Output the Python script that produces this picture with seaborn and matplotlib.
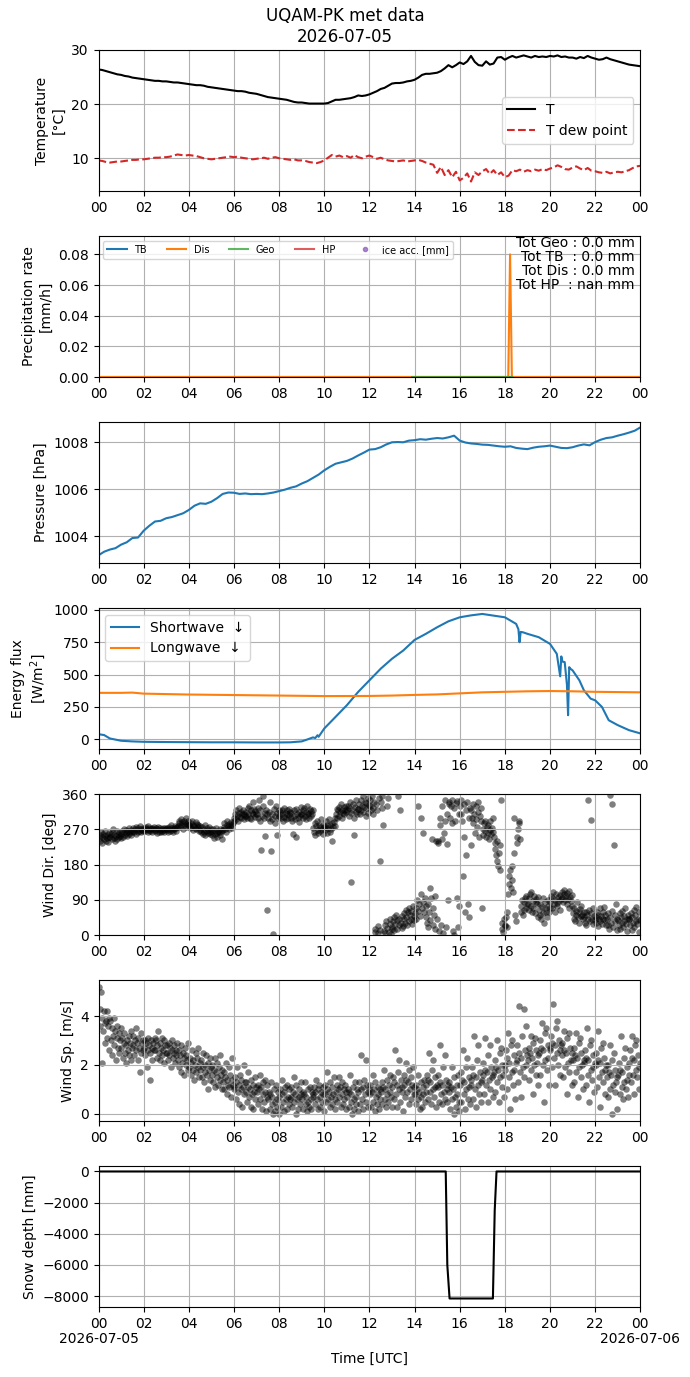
import numpy as np
import pandas as pd
import matplotlib
matplotlib.use("Agg")
import matplotlib.pyplot as plt
import matplotlib.transforms as mtransforms
import seaborn as sns

# --- temperature, every 10 min from 00 to 24 h ---
temp_c = [
    26.4, 26.3, 26.1, 25.9, 25.7, 25.5,
    25.4, 25.2, 25.1, 24.9, 24.8, 24.7,
    24.6, 24.5, 24.4, 24.3, 24.3, 24.2,
    24.2, 24.1, 24.0, 24.0, 23.9, 23.8,
    23.7, 23.6, 23.5, 23.5, 23.4, 23.2,
    23.1, 23.0, 22.9, 22.8, 22.7, 22.6,
    22.5, 22.4, 22.4, 22.3, 22.1, 22.0,
    21.9, 21.7, 21.5, 21.3, 21.2, 21.1,
    21.0, 20.9, 20.8, 20.6, 20.4, 20.3,
    20.3, 20.2, 20.1, 20.1, 20.1, 20.1,
    20.1, 20.2, 20.5, 20.8, 20.8, 20.9,
    21.0, 21.1, 21.3, 21.6, 21.5, 21.6,
    21.8, 22.1, 22.4, 22.8, 23.0, 23.4,
    23.8, 23.9, 23.9, 24.0, 24.2, 24.3,
    24.5, 24.9, 25.4, 25.6, 25.6, 25.7,
    25.8, 26.1, 26.6, 27.2, 26.8, 27.2,
    27.7, 27.4, 27.9, 28.9, 27.8, 27.2,
    27.1, 27.9, 27.3, 27.5, 28.6, 28.7,
    28.2, 28.6, 28.9, 28.6, 28.8, 29.0,
    28.8, 28.6, 28.9, 28.7, 28.8, 28.7,
    28.9, 28.8, 29.0, 28.7, 28.8, 28.6,
    28.6, 28.4, 28.7, 28.5, 28.9, 28.6,
    28.4, 28.2, 28.3, 28.6, 28.3, 28.1,
    27.9, 27.7, 27.5, 27.3, 27.2, 27.1,
    27.0,
]
dew_c = [
    9.6, 9.5, 9.3, 9.2, 9.3, 9.4,
    9.4, 9.5, 9.6, 9.7, 9.7, 9.8,
    9.8, 9.9, 10.0, 10.1, 10.1, 10.2,
    10.2, 10.3, 10.5, 10.7, 10.6, 10.5,
    10.6, 10.5, 10.4, 10.2, 10.0, 9.9,
    9.8, 9.9, 10.0, 10.1, 10.2, 10.3,
    10.2, 10.3, 10.1, 10.0, 9.9, 9.8,
    9.9, 10.0, 10.1, 9.9, 10.1, 10.2,
    10.0, 9.9, 9.8, 9.7, 9.8, 9.6,
    9.6, 9.5, 9.3, 9.2, 9.1, 9.3,
    9.6, 10.1, 10.6, 10.3, 10.5, 10.2,
    10.4, 10.1, 10.6, 10.2, 10.0, 10.3,
    10.5, 10.2, 9.9, 10.1, 9.8, 9.6,
    9.5, 9.4, 9.5, 9.6, 9.4, 9.5,
    9.6, 9.7, 9.5, 9.2, 9.0, 8.8,
    7.3, 8.4, 6.9, 7.8, 6.5, 7.5,
    5.9, 6.4, 7.2, 5.7, 7.4, 6.9,
    7.6, 8.0, 7.1, 7.8, 6.9, 7.4,
    6.5, 6.8, 7.8, 7.6, 7.9, 7.5,
    7.8, 7.6, 7.9, 7.7, 8.0, 7.8,
    8.1, 8.3, 8.7, 8.4, 8.0, 7.9,
    8.3, 8.5, 8.1, 7.8, 8.2, 7.7,
    7.6, 7.4, 7.3, 7.5, 7.2, 7.4,
    7.5, 7.4, 7.6, 7.8, 8.2, 8.5,
    8.6,
]

# --- precipitation rate [mm/h] ---
tb_hours = [0, 24]
tb_rate = [0.0, 0.0]
dis_hours = [0, 18.15, 18.23, 18.31, 24]
dis_rate = [0.0, 0.0, 0.08, 0.0, 0.0]
geo_hours = [13.9, 18.3]
geo_rate = [0.0, 0.0]
hp_hours = [0, 24]
hp_rate = [np.nan, np.nan]
totals_text = "Tot Geo : 0.0 mm\nTot TB  : 0.0 mm\nTot Dis : 0.0 mm\nTot HP  : nan mm"

# --- pressure [hPa], every 15 min ---
pressure_hpa = [
    1003.20, 1003.35, 1003.44, 1003.50, 1003.65, 1003.75, 1003.93, 1003.95,
    1004.24, 1004.45, 1004.63, 1004.66, 1004.77, 1004.82, 1004.90, 1004.98,
    1005.12, 1005.30, 1005.40, 1005.38, 1005.47, 1005.62, 1005.80, 1005.86,
    1005.85, 1005.80, 1005.82, 1005.79, 1005.80, 1005.79, 1005.82, 1005.86,
    1005.92, 1005.98, 1006.06, 1006.12, 1006.24, 1006.34, 1006.48, 1006.62,
    1006.80, 1006.95, 1007.08, 1007.14, 1007.20, 1007.30, 1007.43, 1007.55,
    1007.68, 1007.70, 1007.78, 1007.90, 1007.99, 1008.00, 1007.99, 1008.06,
    1008.08, 1008.12, 1008.10, 1008.14, 1008.17, 1008.15, 1008.20, 1008.27,
    1008.06, 1007.98, 1007.94, 1007.92, 1007.89, 1007.88, 1007.85, 1007.82,
    1007.80, 1007.82, 1007.75, 1007.72, 1007.70, 1007.76, 1007.80, 1007.82,
    1007.85, 1007.80, 1007.75, 1007.74, 1007.78, 1007.85, 1007.90, 1007.86,
    1008.00, 1008.10, 1008.17, 1008.20, 1008.27, 1008.33, 1008.40, 1008.48,
    1008.62,
]

# --- radiation [W/m2] ---
sw_hours = [0, 0.25, 0.5, 1, 1.5, 2, 3, 4, 5, 6, 7, 8, 8.5, 9, 9.25, 9.5, 9.6, 9.7,
            9.75, 10, 10.5, 11, 11.5, 12, 12.5, 13, 13.5, 14, 14.5, 15, 15.5, 16,
            16.5, 17, 17.5, 18, 18.5, 18.6, 18.65, 18.7, 18.8, 19, 19.5, 20, 20.3,
            20.45, 20.5, 20.55, 20.65, 20.75, 20.8, 20.85, 20.9, 21, 21.3, 21.5,
            21.8, 22, 22.3, 22.6, 23, 23.5, 24]
sw_flux = [38, 31, 5, -13, -18, -21, -23, -24, -25, -25, -26, -26, -25, -18, -3, 13,
           8, 30, 18, 82, 172, 262, 365, 455, 545, 622, 686, 768, 815, 866, 912, 943,
           958, 969, 956, 943, 892, 850, 750, 830, 827, 815, 789, 737, 660,
           486, 640, 600, 596, 420, 185, 557, 545, 532, 455, 378,
           313, 300, 249, 146, 108, 69, 44]
lw_hours = [0, 1, 1.5, 2, 4, 6, 8, 10, 12, 13, 14, 15, 16, 17, 18, 19, 20, 21, 22, 23, 24]
lw_flux = [358, 358, 360, 352, 345, 341, 337, 333, 334, 337, 342, 346, 354, 362, 366,
           370, 372, 370, 366, 364, 362]

# --- wind: 16 samples per 30-min block ---
wind_dir_blocks = [
    [248, 240, 255, 262, 236, 250, 258, 244, 252, 265, 240, 247, 256, 238, 250, 260],
    [250, 258, 244, 262, 270, 248, 255, 240, 252, 266, 245, 258, 250, 262, 254, 248],
    [258, 265, 250, 262, 270, 255, 268, 260, 252, 266, 272, 258, 262, 255, 268, 264],
    [265, 272, 262, 270, 258, 275, 268, 264, 272, 266, 278, 262, 270, 268, 274, 266],
    [268, 272, 265, 275, 270, 262, 278, 268, 272, 266, 270, 274, 264, 270, 276, 268],
    [266, 272, 260, 270, 276, 264, 268, 272, 262, 270, 266, 274, 268, 264, 272, 270],
    [268, 272, 264, 276, 270, 266, 280, 272, 268, 262, 274, 270, 278, 266, 272, 276],
    [278, 285, 290, 275, 296, 282, 288, 270, 292, 280, 286, 300, 276, 284, 290, 282],
    [280, 272, 286, 276, 290, 268, 282, 278, 274, 288, 270, 284, 276, 280, 266, 278],
    [268, 262, 275, 258, 270, 264, 280, 255, 266, 272, 260, 268, 276, 262, 258, 270],
    [262, 255, 270, 248, 265, 258, 272, 260, 250, 266, 262, 270, 256, 264, 245, 268],
    [268, 275, 285, 270, 262, 280, 290, 276, 270, 284, 278, 288, 272, 280, 286, 292],
    [300, 310, 295, 318, 305, 290, 312, 325, 302, 298, 315, 308, 320, 296, 310, 304],
    [305, 315, 298, 325, 310, 330, 300, 318, 295, 312, 340, 308, 322, 302, 316, 310],
    [310, 300, 325, 345, 290, 318, 216, 305, 330, 355, 298, 312, 253, 320, 64, 308],
    [300, 315, 290, 340, 214, 310, 296, 2, 322, 305, 285, 330, 255, 312, 298, 318],
    [305, 315, 298, 320, 310, 292, 325, 302, 312, 296, 318, 308, 300, 322, 306, 314],
    [300, 312, 290, 258, 318, 305, 296, 322, 250, 308, 298, 315, 288, 304, 326, 310],
    [310, 318, 300, 325, 305, 296, 315, 330, 308, 312, 298, 322, 304, 316, 310, 320],
    [272, 262, 285, 255, 278, 290, 268, 260, 282, 275, 266, 295, 270, 258, 280, 276],
    [275, 268, 290, 260, 282, 272, 295, 264, 280, 270, 286, 240, 276, 288, 278, 300],
    [310, 322, 300, 318, 328, 305, 315, 335, 298, 320, 312, 326, 308, 318, 330, 315],
    [318, 330, 305, 325, 340, 312, 136, 320, 335, 300, 255, 328, 315, 345, 310, 322],
    [322, 335, 310, 345, 318, 330, 355, 315, 328, 340, 305, 338, 325, 350, 312, 332],
    [330, 345, 318, 355, 325, 310, 340, 8, 15, 335, 320, 22, 5, 350, 190, 12],
    [340, 325, 355, 280, 10, 25, 5, 35, 18, 330, 350, 8, 40, 28, 2, 15],
    [20, 35, 12, 45, 28, 50, 15, 38, 355, 25, 42, 320, 30, 18, 48, 22],
    [40, 55, 30, 65, 45, 25, 58, 70, 35, 50, 42, 62, 28, 75, 48, 38],
    [55, 70, 40, 90, 62, 330, 80, 48, 105, 300, 68, 85, 260, 58, 95, 75],
    [45, 30, 80, 20, 60, 120, 38, 95, 245, 25, 70, 52, 15, 100, 240, 42],
    [240, 235, 10, 280, 300, 25, 245, 330, 5, 260, 290, 345, 20, 232, 310, 90],
    [335, 340, 300, 330, 285, 345, 10, 0, 325, 290, 338, 95, 342, 20, 310, 75],
    [330, 310, 345, 290, 150, 250, 335, 60, 320, 205, 340, 80, 300, 45, 325, 230],
    [320, 300, 335, 285, 310, 260, 330, 295, 275, 340, 315, 250, 305, 325, 290, 70],
    [270, 255, 285, 265, 290, 250, 275, 260, 280, 245, 268, 290, 258, 272, 300, 262],
    [250, 235, 220, 205, 240, 190, 175, 210, 165, 230, 345, 15, 30, 8, 40, 22],
    [25, 45, 60, 20, 105, 130, 150, 165, 120, 175, 140, 110, 300, 210, 50, 35],
    [235, 250, 270, 285, 290, 245, 60, 75, 90, 50, 85, 65, 95, 70, 100, 80],
    [80, 95, 65, 105, 75, 110, 60, 88, 70, 100, 55, 92, 85, 78, 45, 98],
    [65, 50, 80, 40, 72, 95, 55, 30, 68, 85, 60, 45, 75, 90, 58, 70],
    [85, 100, 70, 95, 110, 78, 90, 60, 105, 82, 75, 98, 88, 65, 102, 92],
    [95, 110, 85, 105, 115, 90, 100, 80, 108, 92, 70, 112, 98, 88, 75, 102],
    [55, 40, 70, 35, 62, 50, 85, 45, 58, 30, 66, 48, 75, 52, 40, 60],
    [45, 30, 60, 25, 50, 344, 40, 65, 35, 293, 55, 42, 28, 70, 48, 38],
    [45, 30, 60, 22, 52, 40, 68, 35, 48, 28, 58, 42, 72, 38, 50, 25],
    [40, 25, 55, 15, 45, 357, 30, 335, 62, 20, 231, 50, 35, 80, 12, 42],
    [38, 25, 55, 15, 45, 30, 62, 20, 48, 35, 70, 28, 42, 10, 52, 40],
    [40, 25, 55, 12, 45, 30, 65, 20, 50, 35, 72, 28, 42, 8, 58, 38],
]
wind_speed_blocks = [
    [5.2, 4.3, 3.6, 5.0, 3.9, 2.1, 3.4, 4.2, 3.7, 2.9, 3.8, 4.2, 3.1, 3.6, 2.6, 3.9],
    [3.8, 3.0, 3.5, 2.4, 3.2, 3.9, 2.8, 3.4, 2.2, 3.1, 3.6, 2.7, 3.3, 2.5, 3.0, 3.5],
    [2.7, 3.1, 2.3, 2.9, 3.3, 2.5, 2.8, 2.1, 3.0, 2.6, 3.2, 2.4, 2.9, 2.2, 3.4, 2.7],
    [2.8, 3.2, 2.4, 3.0, 3.5, 2.6, 2.9, 2.2, 3.1, 2.7, 1.7, 3.3, 2.5, 2.9, 3.0, 2.6],
    [2.7, 3.0, 2.4, 2.9, 1.9, 3.1, 2.6, 2.8, 1.4, 2.5, 3.0, 2.7, 2.2, 2.9, 2.6, 3.1],
    [2.6, 3.0, 2.3, 2.8, 3.4, 2.5, 2.2, 2.9, 2.7, 3.1, 2.4, 2.6, 3.0, 2.1, 2.8, 2.5],
    [2.5, 2.8, 2.2, 2.9, 2.4, 2.7, 1.9, 2.6, 3.0, 2.3, 2.5, 2.8, 2.1, 2.6, 2.4, 2.9],
    [2.2, 2.6, 1.9, 2.4, 1.7, 2.8, 2.1, 2.5, 2.3, 1.6, 2.7, 2.0, 2.4, 2.2, 2.9, 1.8],
    [1.9, 2.3, 1.6, 2.1, 2.6, 1.8, 2.2, 1.4, 2.0, 2.5, 1.7, 2.3, 1.9, 2.7, 1.5, 2.1],
    [1.8, 2.2, 1.5, 1.9, 2.5, 1.3, 2.0, 1.7, 2.4, 1.6, 1.0, 2.1, 1.8, 1.4, 2.3, 1.9],
    [1.6, 2.0, 1.3, 1.8, 2.3, 1.1, 1.7, 1.5, 2.1, 1.2, 1.9, 1.4, 2.4, 1.6, 1.0, 1.8],
    [1.3, 1.7, 1.0, 1.5, 2.1, 0.8, 1.4, 1.2, 1.9, 1.1, 1.6, 0.7, 1.4, 2.3, 1.2, 1.0],
    [1.1, 1.5, 0.6, 1.3, 1.9, 0.9, 1.2, 0.4, 1.6, 1.0, 1.4, 0.3, 1.1, 2.0, 0.8, 1.3],
    [0.9, 1.3, 0.5, 1.1, 1.7, 0.7, 1.0, 0.3, 1.4, 0.8, 1.2, 0.2, 0.9, 1.5, 0.6, 1.1],
    [0.9, 1.2, 0.4, 1.0, 1.6, 0.6, 1.1, 0.2, 1.3, 0.8, 0.5, 1.4, 0.9, 0.1, 1.2, 0.7],
    [0.6, 0.9, 0.2, 0.8, 1.3, 0.4, 0.7, 0.0, 1.0, 0.5, 0.1, 1.2, 0.6, 0.3, 0.9, 0.0],
    [0.7, 1.0, 0.3, 0.8, 1.4, 0.5, 0.9, 0.1, 1.1, 0.6, 0.2, 1.2, 0.7, 0.4, 1.0, 0.6],
    [0.7, 1.1, 0.3, 0.9, 1.5, 0.5, 0.8, 0.0, 1.2, 0.6, 0.2, 1.0, 0.7, 0.4, 1.3, 0.8],
    [0.6, 0.9, 0.2, 0.8, 1.3, 0.4, 0.7, 0.1, 1.0, 0.5, 0.3, 1.1, 0.6, 0.2, 0.9, 0.7],
    [0.8, 1.1, 0.4, 0.9, 1.4, 0.6, 1.0, 0.2, 1.2, 0.7, 0.3, 0.9, 0.5, 1.1, 0.8, 0.1],
    [0.8, 1.2, 0.5, 1.0, 1.7, 0.6, 0.9, 0.3, 1.3, 0.7, 0.4, 1.1, 0.8, 1.5, 0.6, 0.2],
    [0.9, 1.2, 0.5, 1.0, 1.5, 0.7, 1.1, 0.3, 1.3, 0.8, 0.4, 1.0, 0.6, 1.2, 0.9, 0.2],
    [0.7, 1.0, 0.3, 0.9, 1.6, 0.5, 0.8, 0.0, 1.1, 0.6, 0.2, 1.3, 0.7, 0.4, 1.0, 0.1],
    [0.9, 1.3, 0.4, 1.0, 2.4, 0.6, 1.1, 0.2, 1.4, 0.8, 2.2, 0.5, 1.2, 0.9, 0.3, 1.0],
    [0.8, 1.2, 0.3, 0.9, 1.6, 0.5, 1.0, 0.1, 1.3, 0.7, 0.4, 1.1, 0.8, 0.2, 1.0, 0.6],
    [0.9, 1.3, 0.4, 1.1, 1.8, 0.6, 1.0, 0.3, 1.4, 0.8, 0.5, 1.2, 0.9, 1.6, 0.7, 0.3],
    [1.1, 1.5, 0.6, 1.3, 2.6, 0.8, 1.2, 0.3, 1.7, 1.0, 2.2, 0.5, 1.4, 0.9, 1.1, 0.1],
    [1.2, 1.6, 0.7, 1.4, 2.1, 0.9, 1.3, 0.4, 1.8, 1.0, 0.6, 1.5, 1.2, 1.9, 0.8, 1.1],
    [0.8, 1.2, 0.4, 1.0, 1.6, 0.6, 0.9, 0.2, 1.3, 0.7, 0.3, 1.1, 0.8, 1.4, 0.5, 0.9],
    [1.2, 1.6, 0.6, 1.4, 2.5, 0.9, 1.3, 0.4, 1.8, 1.0, 2.2, 0.7, 1.5, 1.1, 0.3, 1.2],
    [1.1, 1.6, 0.5, 1.3, 2.8, 0.8, 1.2, 0.4, 1.9, 0.9, 2.4, 0.6, 1.4, 1.0, 0.5, 1.2],
    [0.9, 1.3, 0.2, 1.1, 1.9, 0.6, 1.0, 0.0, 1.5, 0.7, 0.3, 1.2, 0.8, 1.6, 0.5, 0.1],
    [1.2, 1.7, 0.5, 1.4, 2.6, 0.8, 1.3, 0.2, 1.9, 1.0, 2.3, 0.6, 1.5, 1.1, 0.4, 1.2],
    [1.4, 1.9, 0.6, 1.6, 3.2, 1.0, 1.5, 0.3, 2.2, 1.2, 2.8, 0.8, 1.7, 1.3, 0.5, 1.4],
    [1.6, 2.1, 0.8, 1.8, 3.1, 1.2, 1.7, 0.5, 2.4, 1.4, 2.8, 1.0, 1.9, 1.5, 0.7, 1.6],
    [1.7, 2.2, 0.9, 1.9, 3.0, 1.3, 1.8, 0.5, 2.5, 1.5, 2.7, 1.1, 2.0, 1.6, 0.7, 1.8],
    [2.0, 2.6, 1.0, 2.3, 3.3, 1.5, 2.1, 0.2, 2.8, 1.7, 3.0, 1.2, 2.4, 1.8, 0.6, 2.1],
    [2.2, 2.8, 1.3, 2.5, 4.4, 1.7, 2.3, 0.7, 3.2, 1.9, 4.3, 1.5, 2.6, 2.0, 3.6, 2.4],
    [2.2, 2.7, 1.4, 2.5, 3.2, 1.8, 2.3, 0.8, 2.9, 2.0, 3.1, 1.6, 2.6, 2.1, 1.2, 2.4],
    [2.5, 3.0, 1.6, 2.7, 3.7, 2.0, 2.6, 0.5, 3.3, 2.2, 3.5, 1.8, 2.8, 2.3, 1.2, 2.6],
    [2.7, 3.2, 1.9, 2.9, 4.5, 2.3, 2.8, 1.2, 3.5, 2.5, 3.8, 2.0, 3.0, 2.6, 1.6, 2.8],
    [2.4, 2.9, 1.5, 2.6, 3.4, 1.9, 2.5, 0.8, 3.1, 2.1, 3.3, 1.7, 2.7, 2.2, 1.2, 2.5],
    [2.2, 2.7, 1.3, 2.4, 3.3, 1.7, 2.3, 0.7, 2.9, 1.9, 3.1, 1.5, 2.5, 2.0, 1.0, 2.2],
    [2.1, 2.6, 1.2, 2.3, 3.5, 1.6, 2.2, 0.5, 2.8, 1.8, 3.0, 1.4, 2.4, 1.9, 0.9, 2.1],
    [2.0, 2.5, 1.1, 2.2, 3.4, 1.5, 2.1, 0.3, 2.7, 1.7, 2.9, 1.3, 2.3, 1.8, 0.8, 2.0],
    [1.5, 2.0, 0.7, 1.7, 2.8, 1.0, 1.6, 0.0, 2.2, 1.2, 2.5, 0.9, 1.8, 1.3, 0.2, 1.5],
    [1.6, 2.1, 0.8, 1.8, 3.2, 1.1, 1.7, 0.6, 2.3, 1.3, 2.7, 1.0, 1.9, 1.4, 0.7, 1.6],
    [2.1, 2.6, 1.3, 2.3, 3.2, 1.6, 2.2, 0.8, 2.8, 1.8, 3.0, 1.5, 2.4, 1.9, 1.0, 2.1],
]

# --- snow depth [mm] ---
snow_hours = [0, 15.38, 15.45, 15.55, 17.47, 17.55, 17.63, 24]
snow_mm = [0, 0, -6000, -8150, -8150, -2500, 0, 0]

date_start = "2026-07-05"
date_end = "2026-07-06"

# build the frames
t10 = np.arange(len(temp_c)) / 6.0
df_t = pd.DataFrame({"hour": t10, "T": temp_c, "Td": dew_c})
df_p = pd.DataFrame({"hour": np.arange(len(pressure_hpa)) / 4.0, "p": pressure_hpa})
df_sw = pd.DataFrame({"hour": sw_hours, "flux": sw_flux})
df_lw = pd.DataFrame({"hour": lw_hours, "flux": lw_flux})
n_per = len(wind_dir_blocks[0])
wind_hours = [b * 0.5 + (i + 0.5) * 0.5 / n_per
              for b in range(len(wind_dir_blocks)) for i in range(n_per)]
df_w = pd.DataFrame({
    "hour": wind_hours,
    "dir": [v for blk in wind_dir_blocks for v in blk],
    "spd": [v for blk in wind_speed_blocks for v in blk],
})
df_snow = pd.DataFrame({"hour": snow_hours, "snow": snow_mm})

fig, axes = plt.subplots(7, 1, figsize=(6.9, 13.77), dpi=100)
fig.subplots_adjust(left=0.1428, right=0.928, top=0.9637, bottom=0.0508, hspace=0.319)
fig.suptitle("UQAM-PK met data\n" + date_start, fontsize=12, y=0.995)

# temperature
ax = axes[0]
sns.lineplot(data=df_t, x="hour", y="T", ax=ax, color="black", label="T")
sns.lineplot(data=df_t, x="hour", y="Td", ax=ax, color="tab:red", linestyle="--",
             label="T dew point")
ax.set_ylim(3.95, 30)
ax.set_yticks([10, 20, 30])
ax.set_ylabel("Temperature\n[°C]")
ax.legend(loc="center right", fontsize=10)

# precipitation
ax = axes[1]
sns.lineplot(x=tb_hours, y=tb_rate, ax=ax, color="tab:blue", label="TB")
sns.lineplot(x=dis_hours, y=dis_rate, ax=ax, color="tab:orange", label="Dis")
sns.lineplot(x=geo_hours, y=geo_rate, ax=ax, color="tab:green", alpha=0.75, label="Geo")
ax.plot(hp_hours, hp_rate, color="tab:red", alpha=0.75, label="HP")
ax.plot([], [], "o", color="tab:purple", alpha=0.8, ms=3, label="ice acc. [mm]")
ax.set_ylim(0, 0.092)
ax.set_yticks([0, 0.02, 0.04, 0.06, 0.08])
ax.set_ylabel("Precipitation rate\n[mm/h]")
ax.legend(loc="upper left", ncol=5, fontsize=7)
ax.text(0.99, 1.0, totals_text, transform=ax.transAxes, ha="right", va="top",
        fontsize=10, linespacing=1.0)

# pressure
ax = axes[2]
sns.lineplot(data=df_p, x="hour", y="p", ax=ax, color="tab:blue")
ax.set_ylim(1002.87, 1008.85)
ax.set_yticks([1004, 1006, 1008])
ax.set_ylabel("Pressure [hPa]")

# radiation
ax = axes[3]
sns.lineplot(data=df_sw, x="hour", y="flux", ax=ax, color="tab:blue", label="Shortwave  ↓")
sns.lineplot(data=df_lw, x="hour", y="flux", ax=ax, color="tab:orange", label="Longwave  ↓")
ax.set_ylim(-77, 1015)
ax.set_yticks([0, 250, 500, 750, 1000])
ax.set_ylabel("Energy flux\n[W/m$^2$]")
ax.legend(loc="upper left", fontsize=10)

# wind direction
ax = axes[4]
sns.scatterplot(data=df_w, x="hour", y="dir", ax=ax, color="black", alpha=0.5,
                s=22, linewidth=0)
ax.set_ylim(0, 360)
ax.set_yticks([0, 90, 180, 270, 360])
ax.set_ylabel("Wind Dir. [deg]")

# wind speed
ax = axes[5]
sns.scatterplot(data=df_w, x="hour", y="spd", ax=ax, color="black", alpha=0.5,
                s=22, linewidth=0)
ax.set_ylim(-0.29, 5.47)
ax.set_yticks([0, 2, 4])
ax.set_ylabel("Wind Sp. [m/s]")

# snow depth
ax = axes[6]
sns.lineplot(data=df_snow, x="hour", y="snow", ax=ax, color="black")
ax.set_ylim(-8700, 350)
ax.set_yticks([0, -2000, -4000, -6000, -8000])
ax.set_ylabel("Snow depth [mm]")

tick_hours = list(range(0, 25, 2))
labels = [f"{h % 24:02d}" for h in tick_hours]
for ax in axes:
    ax.set_xlim(0, 24)
    ax.set_xticks(tick_hours)
    ax.set_xticklabels(labels)
    ax.set_xlabel("")
    ax.grid(True)

# dates under the first and last tick of the bottom panel
ax = axes[-1]
ax.set_xlabel("Time [UTC]")
ax.xaxis.set_label_coords(0.5, -0.32)
trans = mtransforms.blended_transform_factory(ax.transData, ax.transAxes)
ax.text(0, -0.18, date_start, transform=trans, ha="center", va="top", fontsize=10)
ax.text(24, -0.18, date_end, transform=trans, ha="center", va="top", fontsize=10)

fig.savefig("out.png", dpi=100)
